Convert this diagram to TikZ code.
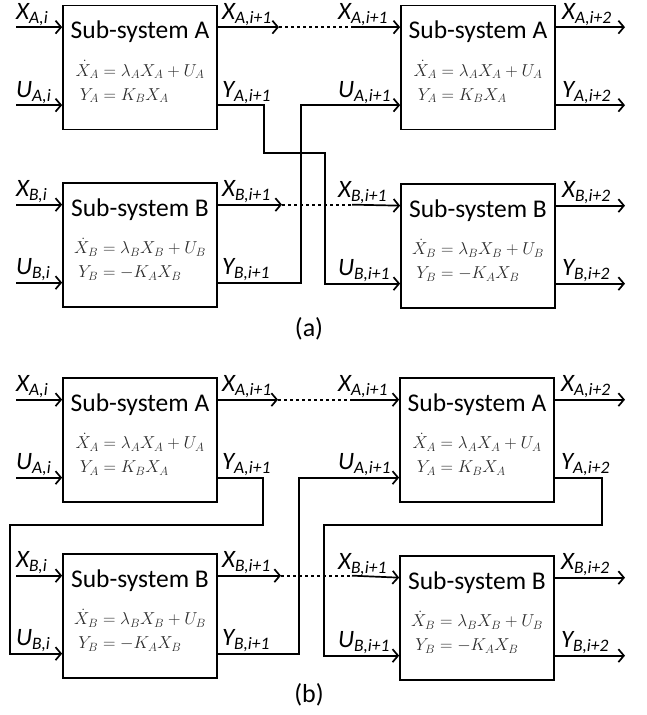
\documentclass[tikz,border=0pt]{standalone}
\usepackage{fontspec}
\usepackage{amsmath}
\usetikzlibrary{arrows.meta,calc}
\newfontfamily\lab{Carlito}
\definecolor{eqgray}{RGB}{45,45,45}
\newcommand\subsys[4]{%
  \node[sysbox] (#1) at (#2) {};
  \node[titletxt] (#1t) at ($(#1.north)+(0,34)$) {Sub-system #3};
  \node[eqn] (#1e) at ($(#1.center)+(0,16)$) {#4};
  \coordinate (#1i1) at ($(#1.north west)+(0,22.5)$);
  \coordinate (#1i2) at ($(#1.north west)+(0,100.5)$);
  \coordinate (#1o1) at ($(#1.north east)+(0,22.5)$);
  \coordinate (#1o2) at ($(#1.north east)+(0,100.5)$);
}
\newcommand\eqA{\setlength\jot{3pt}$\begin{aligned}\dot X_A &= \lambda_A X_A + U_A\\ Y_A &= K_B X_A\end{aligned}$}
\newcommand\eqB{\setlength\jot{3pt}$\begin{aligned}\dot X_B &= \lambda_B X_B + U_B\\ Y_B &= -K_A X_B\end{aligned}$}
\newcommand\lsub[2]{#1\textsubscript{#2}}
\begin{document}
\begin{tikzpicture}[x=1pt,y=-1pt,
  conn/.style={line width=1.7pt},
  arr/.style={conn,-{Straight Barb[length=5.5pt,width=13pt]}},
  dots/.style={line width=1.7pt,dash pattern=on 3pt off 3pt},
  sysbox/.style={draw,line width=1.7pt,minimum width=154pt,minimum height=124pt,inner sep=0pt},
  titletxt/.style={font=\lab\fontsize{25.5}{25.5}\selectfont,anchor=base,inner sep=0pt},
  eqn/.style={font=\fontsize{17.5}{21}\selectfont,text=eqgray,inner sep=0pt},
  lbl/.style={font=\lab\itshape\fontsize{25}{25}\selectfont,inner sep=0pt,anchor=south west,yshift=1.5pt},
  captxt/.style={font=\lab\fontsize{26}{26}\selectfont,inner sep=0pt},
]
\useasboundingbox (0,0) rectangle (646,715);

% ---------------- (a) ----------------
\subsys{aA1}{140,67.5}{A}{\eqA}
\subsys{aA2}{478,67.5}{A}{\eqA}
\subsys{aB1}{140,245}{B}{\eqB}
\subsys{aB2}{478,246}{B}{\eqB}

\coordinate (a-xai) at (16,0 |- aA1i1);
\coordinate (a-uai) at (16,0 |- aA1i2);
\coordinate (a-xbi) at (16,0 |- aB1i1);
\coordinate (a-ubi) at (16,0 |- aB1i2);
\draw[arr] (a-xai) -- (aA1i1);
\draw[arr] (a-uai) -- (aA1i2);
\draw[arr] (a-xbi) -- (aB1i1);
\draw[arr] (a-ubi) -- (aB1i2);
\node[lbl] (la1) at (a-xai) {\lsub{X}{A,i}};
\node[lbl] (la2) at (a-uai) {\lsub{U}{A,i}};
\node[lbl] (la3) at (a-xbi) {\lsub{X}{B,i}};
\node[lbl] (la4) at (a-ubi) {\lsub{U}{B,i}};

\coordinate (a-xa1e) at (279,0 |- aA1o1);
\coordinate (a-xa1m) at (352,0 |- aA1o1);
\coordinate (a-xb1e) at (282,0 |- aB1o1);
\coordinate (a-xb1m) at (352,0 |- aB1o1);
\draw[arr] (aA1o1) -- (a-xa1e);
\draw[dots] (a-xa1e) -- (a-xa1m);
\draw[arr] (a-xa1m) -- (aA2i1);
\draw[arr] (aB1o1) -- (a-xb1e);
\draw[dots] (a-xb1e) -- (a-xb1m);
\draw[arr] (a-xb1m) -- (aB2i1);
\draw[arr] (aA1o2) -- ++(46,0) |- (325,153) |- (aB2i2);
\draw[arr] (aB1o2) -- ++(83,0) |- (aA2i2);

\node[lbl] (la5) at ($(aA1o1)+(4,0)$) {\lsub{X}{A,i+1}};
\node[lbl] (la6) at ($(aA1o2)+(4,0)$) {\lsub{Y}{A,i+1}};
\node[lbl] (la7) at ($(aB1o1)+(4,0)$) {\lsub{X}{B,i+1}};
\node[lbl] (la8) at ($(aB1o2)+(4,0)$) {\lsub{Y}{B,i+1}};
\node[lbl] (la9) at (338,0 |- aA2i1) {\lsub{X}{A,i+1}};
\node[lbl] (la10) at (338,0 |- aA2i2) {\lsub{U}{A,i+1}};
\node[lbl] (la11) at (338,0 |- aB2i1) {\lsub{X}{B,i+1}};
\node[lbl] (la12) at (338,0 |- aB2i2) {\lsub{U}{B,i+1}};

\coordinate (a-oa1) at (625,0 |- aA2o1);
\coordinate (a-oa2) at (625,0 |- aA2o2);
\coordinate (a-ob1) at (625,0 |- aB2o1);
\coordinate (a-ob2) at (625,0 |- aB2o2);
\draw[arr] (aA2o1) -- (a-oa1);
\draw[arr] (aA2o2) -- (a-oa2);
\draw[arr] (aB2o1) -- (a-ob1);
\draw[arr] (aB2o2) -- (a-ob2);
\node[lbl] (la13) at ($(aA2o1)+(6,0)$) {\lsub{X}{A,i+2}};
\node[lbl] (la14) at ($(aA2o2)+(6,0)$) {\lsub{Y}{A,i+2}};
\node[lbl] (la15) at ($(aB2o1)+(6,0)$) {\lsub{X}{B,i+2}};
\node[lbl] (la16) at ($(aB2o2)+(6,0)$) {\lsub{Y}{B,i+2}};

\node[captxt] (capa) at (309,329) {(a)};

% ---------------- (b) ----------------
\subsys{bA1}{140,440}{A}{\eqA}
\subsys{bA2}{477,440}{A}{\eqA}
\subsys{bB1}{140,616}{B}{\eqB}
\subsys{bB2}{477,618}{B}{\eqB}

\coordinate (b-xai) at (16,0 |- bA1i1);
\coordinate (b-uai) at (16,0 |- bA1i2);
\coordinate (b-xbi) at (16,0 |- bB1i1);
\coordinate (b-ubi) at (16,0 |- bB1i2);
\draw[arr] (b-xai) -- (bA1i1);
\draw[arr] (b-uai) -- (bA1i2);
\draw[arr] (b-xbi) -- (bB1i1);
\node[lbl] (lb1) at (b-xai) {\lsub{X}{A,i}};
\node[lbl] (lb2) at (b-uai) {\lsub{U}{A,i}};
\node[lbl] (lb3) at (b-xbi) {\lsub{X}{B,i}};
\node[lbl] (lb4) at (b-ubi) {\lsub{U}{B,i}};

\coordinate (b-xa1e) at (278,0 |- bA1o1);
\coordinate (b-xa1m) at (352,0 |- bA1o1);
\coordinate (b-xb1e) at (281,0 |- bB1o1);
\coordinate (b-xb1m) at (352,0 |- bB1o1);
\draw[arr] (bA1o1) -- (b-xa1e);
\draw[dots] (b-xa1e) -- (b-xa1m);
\draw[arr] (b-xa1m) -- (bA2i1);
\draw[arr] (bB1o1) -- (b-xb1e);
\draw[dots] (b-xb1e) -- (b-xb1m);
\draw[arr] (b-xb1m) -- (bB2i1);
\draw[arr] (bA1o2) -- ++(45,0) |- (10,525) |- (bB1i2);
\draw[arr] (bA2o2) -- ++(47,0) |- (324,525) |- (bB2i2);
\draw[arr] (bB1o2) -- ++(81,0) |- (bA2i2);

\node[lbl] (lb5) at ($(bA1o1)+(4,0)$) {\lsub{X}{A,i+1}};
\node[lbl] (lb6) at ($(bA1o2)+(4,0)$) {\lsub{Y}{A,i+1}};
\node[lbl] (lb7) at ($(bB1o1)+(4,0)$) {\lsub{X}{B,i+1}};
\node[lbl] (lb8) at ($(bB1o2)+(4,0)$) {\lsub{Y}{B,i+1}};
\node[lbl] (lb9) at (338,0 |- bA2i1) {\lsub{X}{A,i+1}};
\node[lbl] (lb10) at (338,0 |- bA2i2) {\lsub{U}{A,i+1}};
\node[lbl] (lb11) at (338,0 |- bB2i1) {\lsub{X}{B,i+1}};
\node[lbl] (lb12) at (338,0 |- bB2i2) {\lsub{U}{B,i+1}};

\coordinate (b-oa1) at (625,0 |- bA2o1);
\coordinate (b-ob1) at (625,0 |- bB2o1);
\coordinate (b-ob2) at (625,0 |- bB2o2);
\draw[arr] (bA2o1) -- (b-oa1);
\draw[arr] (bB2o1) -- (b-ob1);
\draw[arr] (bB2o2) -- (b-ob2);
\node[lbl] (lb13) at ($(bA2o1)+(6,0)$) {\lsub{X}{A,i+2}};
\node[lbl] (lb14) at ($(bA2o2)+(6,0)$) {\lsub{Y}{A,i+2}};
\node[lbl] (lb15) at ($(bB2o1)+(6,0)$) {\lsub{X}{B,i+2}};
\node[lbl] (lb16) at ($(bB2o2)+(6,0)$) {\lsub{Y}{B,i+2}};

\node[captxt] (capb) at (309,695) {(b)};
\end{tikzpicture}
\end{document}
